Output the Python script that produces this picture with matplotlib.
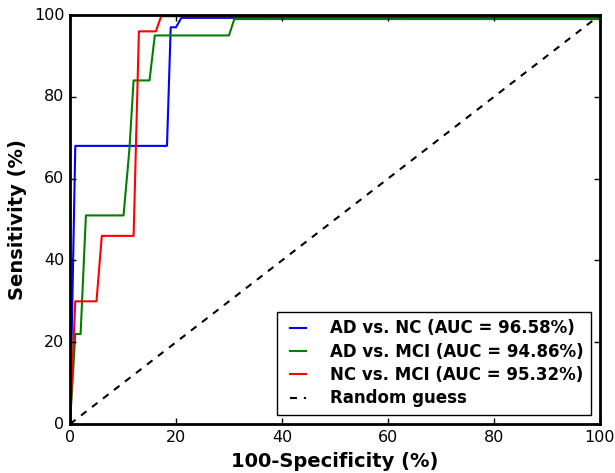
import numpy as np
import matplotlib
matplotlib.use("Agg")
import matplotlib.pyplot as plt

# ROC points (100-specificity, sensitivity), in %
ad_nc_x = [0, 1, 18.3, 19, 20, 21, 100]
ad_nc_y = [0, 68, 68, 97, 97, 99.3, 99.3]

ad_mci_x = [0, 1, 2, 3, 10.1, 11.2, 12, 15, 16, 30, 31, 100]
ad_mci_y = [0, 22, 22, 51, 51, 67, 84, 84, 95, 95, 99, 99]

nc_mci_x = [0, 1, 5, 6, 12, 13, 16.2, 17.2, 100]
nc_mci_y = [0, 30, 30, 46, 46, 96, 96, 99.7, 99.7]

labels = ["AD vs. NC (AUC = 96.58%)",
          "AD vs. MCI (AUC = 94.86%)",
          "NC vs. MCI (AUC = 95.32%)",
          "Random guess"]

plt.style.use("classic")
plt.rcParams["font.family"] = "DejaVu Sans"

fig = plt.figure(figsize=(6.15, 4.73), dpi=100, facecolor="white")
ax = fig.add_axes([70/615, 1 - 424/473, 530/615, 409/473])

ax.plot(ad_nc_x, ad_nc_y, color="b", lw=1.5, label=labels[0])
ax.plot(ad_mci_x, ad_mci_y, color="g", lw=1.5, label=labels[1])
ax.plot(nc_mci_x, nc_mci_y, color="r", lw=1.5, label=labels[2])
ax.plot([0, 100], [0, 100], color="k", ls=(0, (5, 5)), lw=1.5, label=labels[3])

ax.set_xlim(0, 100)
ax.set_ylim(0, 100)
ax.tick_params(labelsize=11.5, direction="in", length=4, width=1)
for s in ax.spines.values():
    s.set_linewidth(2)

ax.set_xlabel("100-Specificity (%)", fontsize=14, fontweight="bold")
ax.set_ylabel("Sensitivity (%)", fontsize=14, fontweight="bold")

leg = ax.legend(loc="lower right", prop={"weight": "bold", "size": 12},
                handlelength=1.6, handletextpad=1.1, labelspacing=0.32,
                borderpad=0.45, fancybox=False, borderaxespad=0.55)
leg.get_frame().set_linewidth(1)

fig.savefig("out.png", dpi=100, facecolor="white")
